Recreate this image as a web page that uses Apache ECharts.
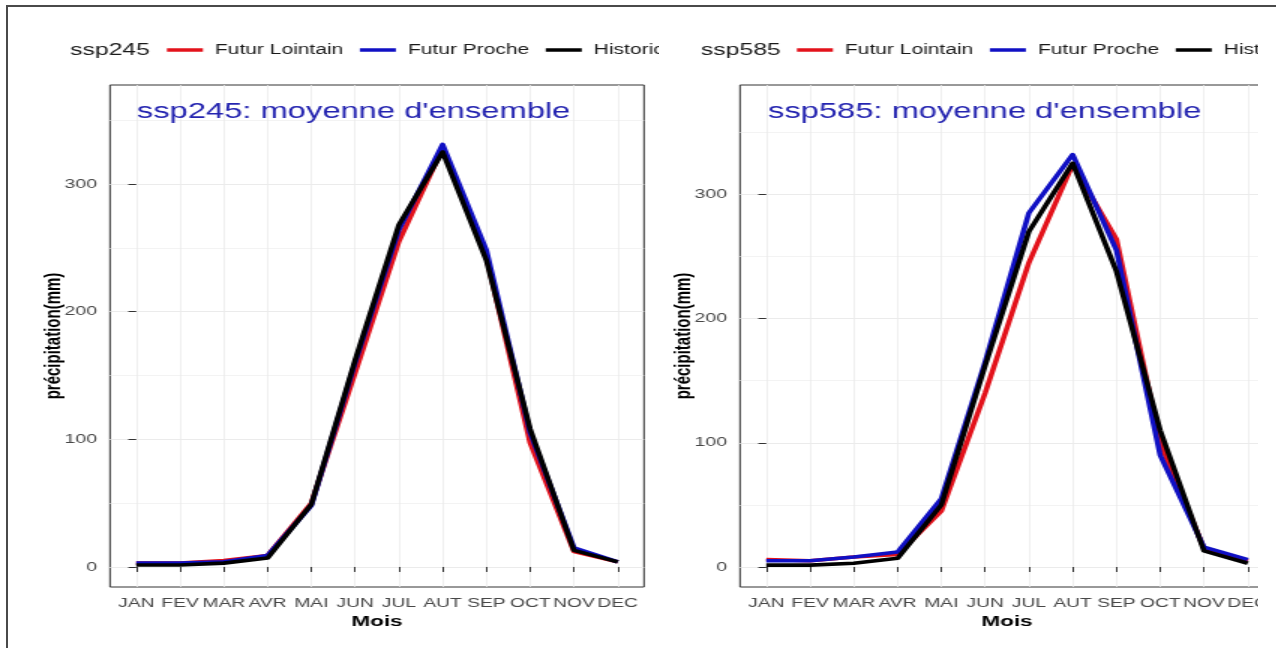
<!DOCTYPE html>
<html>
<head>
<meta charset="utf-8">
<script src="https://cdn.jsdelivr.net/npm/echarts@6/dist/echarts.min.js"></script>
<style>
  html, body { margin: 0; padding: 0; background: #fff; width: 1276px; height: 648px; overflow: hidden; }
  .clip { position: absolute; top: 0; height: 648px; overflow: hidden; }
  /* the charts are laid out narrow and widened horizontally */
  .chart { position: absolute; left: 0; top: 0; height: 648px; transform: scaleX(1.5); transform-origin: 0 0; }
  #frameTop { position: absolute; left: 6px; top: 5px; width: 1270px; height: 2px; background: #4a4a4a; }
  #frameLeft { position: absolute; left: 6px; top: 5px; width: 2px; height: 643px; background: #4a4a4a; }
</style>
</head>
<body>
<div class="clip" style="left:9px;width:650px"><div class="chart" id="chartA" style="width:440px"></div></div>
<div class="clip" style="left:660px;width:598px"><div class="chart" id="chartB" style="width:520px"></div></div>
<div id="frameTop"></div>
<div id="frameLeft"></div>
<script>
// Month labels and y ticks
const months = ['JAN', 'FEV', 'MAR', 'AVR', 'MAI', 'JUN', 'JUL', 'AUT', 'SEP', 'OCT', 'NOV', 'DEC'];
const monthIdx = months.map((m, i) => i);
const yTicks = [0, 100, 200, 300];
const yMinor = [50, 150, 250, 350];
const seriesNames = ['Futur Lointain', 'Futur Proche', 'Historic'];
const seriesColors = ['#e3121b', '#1010c4', '#000000'];

// Monthly precipitation (mm), scenario ssp245
const ssp245Lointain = [3, 3, 5, 9, 50, 152, 255, 328, 243, 97, 12, 4];
const ssp245Proche   = [3, 3, 4, 9, 48, 160, 264, 331, 248, 105, 15, 4];
const ssp245Historic = [1.5, 1.5, 3, 7, 49, 162, 268, 325, 240, 108, 13, 4];

// Monthly precipitation (mm), scenario ssp585
const ssp585Lointain = [6, 5, 8, 10, 45, 140, 245, 324, 264, 100, 15, 5];
const ssp585Proche   = [5, 5, 8, 12, 55, 165, 285, 332, 255, 90, 16, 6];
const ssp585Historic = [1.5, 1.5, 3, 7, 50, 162, 270, 325, 238, 110, 13, 3];

const FONT = "'Liberation Sans', Arial, Helvetica, sans-serif";

function buildOption(cfg) {
  const toPairs = arr => arr.map((v, i) => [i, v]);
  const lineSeries = cfg.values.map((vals, k) => ({
    name: seriesNames[k],
    type: 'line',
    data: toPairs(vals),
    symbol: 'none',
    color: seriesColors[k],
    lineStyle: { width: 3.6, color: seriesColors[k], join: 'round' },
    z: 2 + k
  }));
  return {
    animation: false,
    textStyle: { fontFamily: FONT },
    title: [
      { text: cfg.scenario, left: cfg.scenLeft, top: 41.5, padding: 0,
        textStyle: { fontSize: 16.5, fontWeight: 'normal', color: '#1a1a1a', fontFamily: FONT } },
      { text: cfg.heading, left: cfg.headLeft, top: 101, padding: 0,
        textStyle: { fontSize: 21.8, fontWeight: 'normal', color: '#2424b0', fontFamily: FONT } }
    ],
    legend: {
      left: cfg.legendLeft, top: 43, padding: 0,
      icon: 'rect', itemWidth: 24, itemHeight: 3.5, itemGap: 11,
      textStyle: { fontSize: 14, color: '#1a1a1a', padding: [0, 0, 0, 3], fontFamily: FONT },
      data: seriesNames
    },
    grid: {
      left: cfg.gridLeft, top: 85, width: 356, height: 502,
      show: true, borderColor: '#333', borderWidth: 1, backgroundColor: 'transparent'
    },
    xAxis: {
      type: 'value', min: -0.6, max: 11.6,
      name: 'Mois', nameLocation: 'middle', nameGap: 23,
      nameTextStyle: { fontSize: 15, fontWeight: 'bold', color: '#000', fontFamily: FONT },
      axisLine: { show: false },
      axisTick: { show: true, customValues: monthIdx, length: 5, lineStyle: { color: '#333' } },
      axisLabel: { customValues: monthIdx, formatter: v => months[v], fontSize: 12.8, color: '#474747', margin: 9.5 },
      splitLine: { show: true, lineStyle: { color: '#ebebeb', width: 0.8 } }
    },
    yAxis: [
      {
        type: 'value', min: cfg.yMin, max: cfg.yMax,
        name: 'précipitation(mm)', nameLocation: 'middle', nameRotate: 90, nameGap: 30,
        nameMoveOverlap: false,
        nameTextStyle: { fontSize: 15, fontWeight: 'bold', color: '#000', fontFamily: FONT },
        axisLine: { show: false },
        axisTick: { show: true, customValues: yTicks, length: 5.3, lineStyle: { color: '#333' } },
        axisLabel: { customValues: yTicks, fontSize: 13, color: '#474747', margin: 8.7 },
        splitLine: { show: true, lineStyle: { color: '#ebebeb', width: 1.2 } }
      },
      {
        type: 'value', min: cfg.yMin, max: cfg.yMax, position: 'left',
        axisLine: { show: false },
        axisTick: { show: false, customValues: yMinor },
        axisLabel: { show: false, customValues: yMinor },
        splitLine: { show: true, lineStyle: { color: '#f0f0f0', width: 0.8 } }
      }
    ],
    series: lineSeries
  };
}

const chartA = echarts.init(document.getElementById('chartA'), null, { renderer: 'canvas' });
chartA.setOption(buildOption({
  scenario: 'ssp245', heading: "ssp245: moyenne d'ensemble",
  scenLeft: 40.7, headLeft: 85.3, legendLeft: 105.3, gridLeft: 67.33,
  yMin: -15.7, yMax: 377.5,
  values: [ssp245Lointain, ssp245Proche, ssp245Historic]
}));

const chartB = echarts.init(document.getElementById('chartB'), null, { renderer: 'canvas' });
chartB.setOption(buildOption({
  scenario: 'ssp585', heading: "ssp585: moyenne d'ensemble",
  scenLeft: 27.3, headLeft: 72, legendLeft: 91.3, gridLeft: 53.33,
  yMin: -16.1, yMax: 388,
  values: [ssp585Lointain, ssp585Proche, ssp585Historic]
}));
</script>
</body>
</html>
